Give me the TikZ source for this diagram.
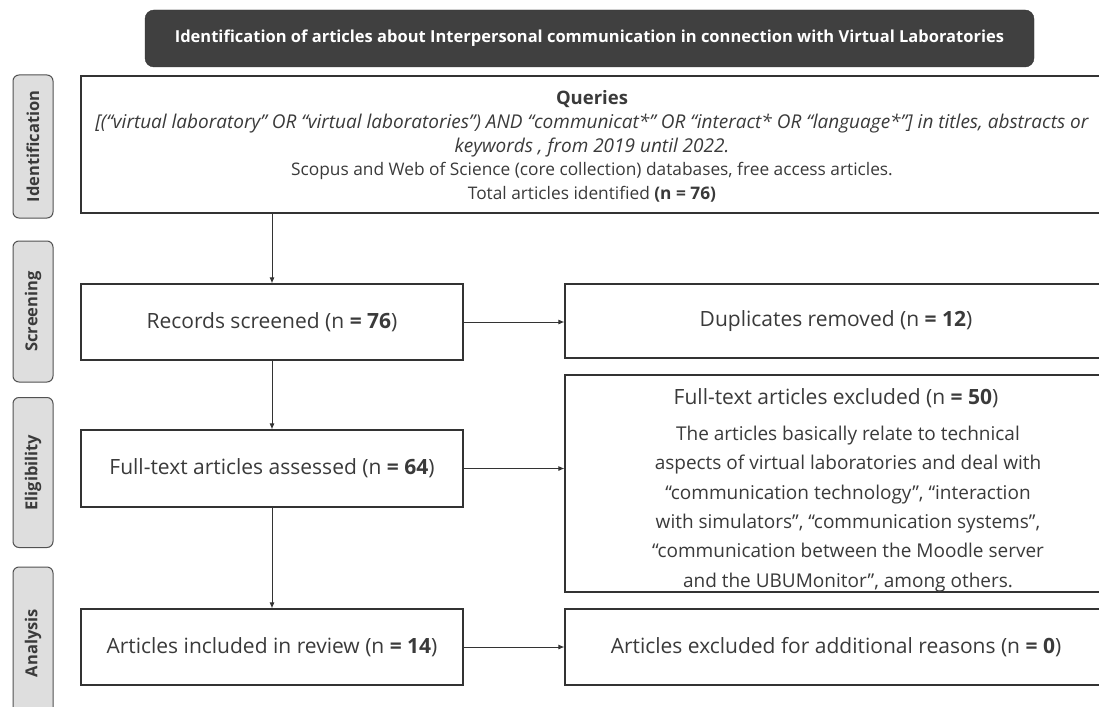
\documentclass[tikz,border=0pt]{standalone}
\usepackage{fontspec}
\setmainfont{Open Sans}
\usetikzlibrary{arrows.meta}
\definecolor{ink}{HTML}{333333}
\definecolor{txt}{HTML}{3A3A3A}
\definecolor{titlebg}{HTML}{404040}
\definecolor{lblbg}{HTML}{DEDEDE}
\begin{document}
\begin{tikzpicture}[x=1pt,y=-1pt,
  box/.style={draw=ink, line width=1.1pt, text=txt, align=center, inner sep=0pt,
    font=\fontsize{21}{24}\selectfont},
  plain/.style={text=txt, align=center, inner sep=0pt},
  lbl/.style={draw=ink!85, fill=lblbg, rounded corners=6pt, line width=1pt, rotate=90,
    minimum height=40pt, text=txt, inner sep=0pt, font=\fontsize{16.5}{18}\selectfont\bfseries},
  arr/.style={draw=ink, line width=1pt, -{Latex[length=6pt,width=5pt]}}]
\path[use as bounding box, clip] (0,0) rectangle (1099,706);
\fill[white] (0,0) rectangle (1099,706);

% title
\node[fill=titlebg, draw=ink, rounded corners=9pt, minimum width=889pt, minimum height=57pt,
  text=white, font=\bfseries\fontsize{16.5}{18}\selectfont] (title) at (589.5,38.5)
  {Identification of articles about Interpersonal communication in connection with Virtual Laboratories};

% stage labels
\node[lbl, minimum width=143pt] (lid) at (33,146.5) {Identification};
\node[lbl, minimum width=141pt] (lsc) at (33,311.5) {Screening};
\node[lbl, minimum width=150pt] (lel) at (33,472.5) {Eligibility};
\node[lbl, minimum width=152pt] (lan) at (33,643) {Analysis};

% boxes
\node[box, minimum width=1022pt, minimum height=137pt] (q) at (592,144.5) {};
\node[plain, font=\fontsize{17.3}{23.6}\selectfont] (qt) at ([yshift=-2pt]q.center)
  {{\fontsize{18.5}{23.6}\selectfont\bfseries Queries}\\
   {\fontsize{19}{23.6}\selectfont\itshape [(“virtual laboratory” OR “virtual laboratories”) AND “communicat*” OR “interact* OR “language*”] in titles, abstracts or}\\
   {\fontsize{19}{23.6}\selectfont\itshape keywords , from 2019 until 2022.}\\
   Scopus and Web of Science (core collection) databases, free access articles.\\
   Total articles identified \textbf{(n = 76)}};

\node[box, minimum width=382pt, minimum height=76pt] (rec) at (272,322) {Records screened (n \textbf{= 76})};
\node[box, minimum width=542pt, minimum height=74pt] (dup) at (836,321) {Duplicates removed (n \textbf{= 12})};
\node[box, minimum width=542pt, minimum height=217pt] (excl) at (836,483.5) {};
\node[plain, font=\fontsize{21}{24}\selectfont] (exclh) at (836,398)
  {Full-text articles excluded (n \textbf{= 50})};
\node[plain, font=\fontsize{19}{29.3}\selectfont, anchor=north] (exclb) at (848,426)
  {The articles basically relate to technical\\
   aspects of virtual laboratories and deal with\\
   “communication technology”, “interaction\\
   with simulators”, “communication systems”,\\
   “communication between the Moodle server\\
   and the UBUMonitor”, among others.};
\node[box, minimum width=382pt, minimum height=77pt] (ass) at (272,468.5) {Full-text articles assessed (n \textbf{= 64})};
\node[box, minimum width=382pt, minimum height=76pt] (inc) at (272,647) {Articles included in review (n \textbf{= 14})};
\node[box, minimum width=542pt, minimum height=76pt] (add) at (836,647) {Articles excluded for additional reasons (n \textbf{= 0})};

% connectors
\draw[arr] (q.south -| rec.north) -- (rec.north);
\draw[arr] (rec.south) -- (ass.north);
\draw[arr] (ass.south) -- (inc.north);
\draw[arr] (rec.east) -- (rec.east -| dup.west);
\draw[arr] (ass.east) -- (ass.east -| excl.west);
\draw[arr] (inc.east) -- (inc.east -| add.west);
\end{tikzpicture}
\end{document}
